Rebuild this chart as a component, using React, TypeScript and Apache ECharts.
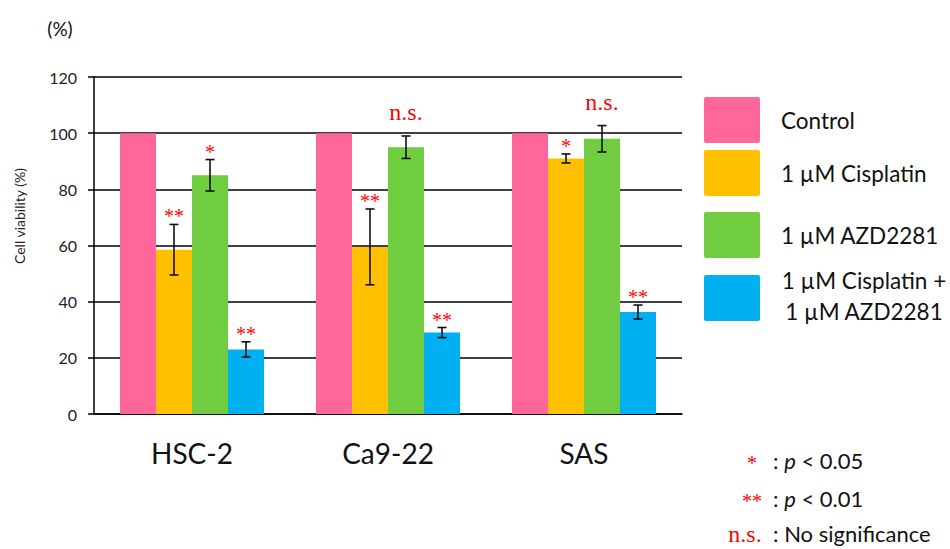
import React, { useEffect, useRef } from "react";
import * as echarts from "echarts";

const categories = ["HSC-2", "Ca9-22", "SAS"];
const seriesNames = ["Control", "1 µM Cisplatin", "1 µM AZD2281", "1 µM Cisplatin +\n1 µM AZD2281"];
const seriesColors = ["#FF6699", "#FFC000", "#70CD3F", "#00B0F0"];

const controlValues = [100, 100, 100];
const cisplatinValues = [58.5, 59.5, 91];
const azdValues = [85, 95, 98];
const comboValues = [23, 29, 36.3];

const controlErr = [0, 0, 0];
const cisplatinErr = [9, 13.5, 1.6];
const azdErr = [5.6, 4, 4.7];
const comboErr = [2.7, 1.8, 2.5];

const controlSig = ["", "", ""];
const cisplatinSig = ["**", "**", "*"];
const azdSig = ["*", "n.s.", "n.s."];
const comboSig = ["**", "**", "**"];

const yMin = 0;
const yMax = 120;
const yInterval = 20;

const sigKey = [
  { mark: "*", text: ": {i|p} < 0.05" },
  { mark: "**", text: ": {i|p} < 0.01" },
  { mark: "n.s.", text: ": No significance" },
];

const allValues = [controlValues, cisplatinValues, azdValues, comboValues];
const allErr = [controlErr, cisplatinErr, azdErr, comboErr];
const allSig = [controlSig, cisplatinSig, azdSig, comboSig];

const CAT_GAP = 0.265;
const SANS = "Lato, 'Open Sans', sans-serif";
const SERIF = "'Liberation Serif', 'DejaVu Serif', serif";

export default function App() {
  const ref = useRef<HTMLDivElement>(null);

  useEffect(() => {
    document.body.style.margin = "0";
    document.body.style.overflow = "hidden";
    if (!ref.current) return;
    const chart = echarts.init(ref.current, null, { renderer: "svg" });

    const errData: number[][] = [];
    const sigData: number[][] = [];
    const sigLabels: string[] = [];
    allValues.forEach((vals, s) => {
      vals.forEach((v, c) => {
        errData.push([c, s, v, allErr[s][c]]);
        if (allSig[s][c]) {
          sigData.push([c, s, v + allErr[s][c]]);
          sigLabels.push(allSig[s][c]);
        }
      });
    });

    const barX = (api: any, cat: number, s: number) => {
      const band = api.size([1, 0])[0];
      const bw = (band * (1 - CAT_GAP)) / 4;
      return api.coord([cat, 0])[0] + (s - 1.5) * bw;
    };

    const legendTops = [97, 150, 212, 275];
    const legendGraphics: any[] = [];
    seriesNames.forEach((name, i) => {
      legendGraphics.push({
        type: "rect",
        shape: { x: 704, y: legendTops[i], width: 56, height: 46, r: 2 },
        style: { fill: seriesColors[i] },
      });
      const multi = name.includes("\n");
      legendGraphics.push({
        type: "text",
        x: multi ? 864 : 781,
        y: multi ? legendTops[i] + 21 : legendTops[i] + 23,
        style: {
          text: name,
          fill: "#111",
          font: `22.5px ${SANS}`,
          align: multi ? "center" : "left",
          verticalAlign: "middle",
          lineHeight: 31,
        },
      });
    });

    const keyGraphics: any[] = [];
    const keyY = [460, 498, 533];
    const keyMarkX = [752, 752, 745];
    sigKey.forEach((k, i) => {
      const ns = k.mark === "n.s.";
      keyGraphics.push({
        type: "text",
        x: keyMarkX[i],
        y: keyY[i] + (ns ? 1 : 3),
        style: {
          text: k.mark,
          fill: "#FF0000",
          font: ns ? `24px ${SERIF}` : `20px ${SERIF}`,
          align: "center",
          verticalAlign: "middle",
        },
      });
      keyGraphics.push({
        type: "text",
        x: 773,
        y: keyY[i],
        style: {
          text: k.text,
          fill: "#111",
          font: `22px ${SANS}`,
          align: "left",
          verticalAlign: "middle",
          rich: { i: { fontStyle: "italic", fontSize: 22, fontFamily: SANS, fill: "#111" } },
        },
      });
    });

    chart.setOption({
      animation: false,
      grid: { left: 94, right: 268, top: 77, bottom: 135, containLabel: false },
      xAxis: {
        type: "category",
        data: categories,
        axisLine: { show: true, lineStyle: { color: "#000", width: 1.5 } },
        axisTick: { show: false },
        axisLabel: { color: "#111", fontSize: 28, fontFamily: SANS, margin: 25 },
      },
      yAxis: {
        type: "value",
        min: yMin,
        max: yMax,
        interval: yInterval,
        axisLine: { show: true, lineStyle: { color: "#000", width: 1.5 } },
        axisTick: { show: true, length: 6, lineStyle: { color: "#000", width: 1.5 } },
        axisLabel: { color: "#222", fontSize: 16, fontFamily: SANS, margin: 17 },
        splitLine: { show: true, lineStyle: { color: "#000", width: 1.5 } },
      },
      series: [
        ...allValues.map((vals, s) => ({
          type: "bar",
          name: seriesNames[s],
          data: vals,
          barGap: "0%",
          barCategoryGap: `${CAT_GAP * 100}%`,
          itemStyle: { color: seriesColors[s] },
        })),
        {
          type: "custom",
          name: "error",
          data: errData,
          z: 5,
          renderItem: (params: any, api: any) => {
            const cat = api.value(0);
            const s = api.value(1);
            const mean = api.value(2);
            const err = api.value(3);
            if (!err) return null;
            const x = barX(api, cat, s);
            const yt = api.coord([cat, mean + err])[1];
            const yb = api.coord([cat, mean - err])[1];
            const cap = 4.5;
            const st = { stroke: "#111", lineWidth: 1.6 };
            return {
              type: "group",
              children: [
                { type: "line", shape: { x1: x, y1: yt, x2: x, y2: yb }, style: st },
                { type: "line", shape: { x1: x - cap, y1: yt, x2: x + cap, y2: yt }, style: st },
                { type: "line", shape: { x1: x - cap, y1: yb, x2: x + cap, y2: yb }, style: st },
              ],
            };
          },
        },
        {
          type: "custom",
          name: "significance",
          data: sigData,
          z: 6,
          renderItem: (params: any, api: any) => {
            const cat = api.value(0);
            const s = api.value(1);
            const top = api.value(2);
            const label = sigLabels[params.dataIndex];
            const x = barX(api, cat, s);
            const yt = api.coord([cat, top])[1];
            const ns = label === "n.s.";
            return {
              type: "text",
              x,
              y: ns ? yt - 12 : yt + 2,
              style: {
                text: label,
                fill: "#FF0000",
                font: ns ? `24px ${SERIF}` : `20px ${SERIF}`,
                align: "center",
                verticalAlign: "bottom",
              },
            };
          },
        },
      ],
      graphic: [
        {
          type: "text",
          x: 60,
          y: 28,
          style: { text: "(%)", fill: "#111", font: `19px ${SANS}`, align: "center", verticalAlign: "middle" },
        },
        {
          type: "text",
          x: 19,
          y: 216,
          rotation: Math.PI / 2,
          style: {
            text: "Cell viability (%)",
            fill: "#222",
            font: `14px ${SANS}`,
            align: "center",
            verticalAlign: "middle",
          },
        },
        ...legendGraphics,
        ...keyGraphics,
      ],
    });

    return () => chart.dispose();
  }, []);

  return <div ref={ref} style={{ width: 950, height: 549 }} />;
}
